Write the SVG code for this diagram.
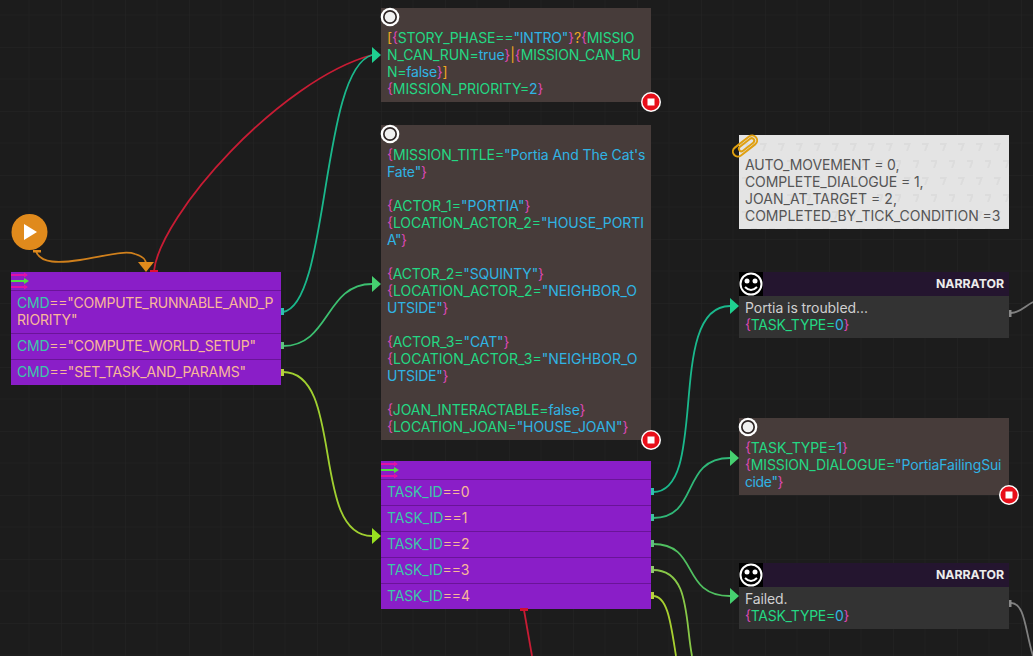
<svg xmlns="http://www.w3.org/2000/svg" width="1033" height="656" viewBox="0 0 1033 656">
<style>
text{font-family:Inter,"Noto Sans",sans-serif;font-size:14px;white-space:pre}
.wire{fill:none;stroke-width:1.800}
.cond{fill:#8a1ec8}.sep{stroke:#6a1498;stroke-width:1}
.brown{fill:#473c3a}
.p{fill:#dc48b4}.g{fill:#24d884}.b{fill:#30b4e4}.o{fill:#f0a820}
.t{fill:#3cc8a8}.s{fill:#f8b898}
.w{fill:#d0d0d0}.k{fill:#555}
.n{fill:#ececec;font-size:12.300px;font-weight:700}
</style>
<defs>
<pattern id="grid" width="64" height="64" patternUnits="userSpaceOnUse" x="-3" y="47"><path d="M32 0V64M0 32H64" fill="none" stroke="#1f1f1f" stroke-width="1"/><path d="M64 0H0V64" fill="none" stroke="#252525" stroke-width="1"/></pattern>
<pattern id="tex" width="18" height="34" patternUnits="userSpaceOnUse" x="739" y="135"><path d="M3 8h7l-3 8h-2l2-6h-4zM12 25h7l-3 8h-2l2-6h-4z" fill="#dcdcdc"/></pattern>
<g id="start"><circle r="9.300" fill="#fff"/><circle r="7" fill="#2e2626"/><circle r="5.300" fill="#f0f0f0"/></g>
<g id="stop"><circle r="10" fill="#fff"/><circle r="8.500" fill="#e80f1a"/><rect x="-3.500" y="-3.500" width="7" height="7" fill="#fff"/></g>
<g id="flags"><path d="M0 1H16M0 13H16" stroke="#e010a8" stroke-width="2"/><path d="M13 -1.500l4 2.500-4 2.500zM13 10.500l4 2.500-4 2.500z" fill="#e010a8"/><path d="M0 7H15" stroke="#50e040" stroke-width="2"/><path d="M13 4l5 3-5 3z" fill="#50e040"/></g>
<g id="smile"><rect x="-12" y="-12" width="24" height="24" fill="#000"/><circle r="10.500" fill="none" stroke="#fff" stroke-width="2"/><circle cx="-4" cy="-3" r="2.500" fill="#fff"/><circle cx="4" cy="-3" r="2.500" fill="#fff"/><path d="M-6 3Q0 9 6 3" fill="none" stroke="#fff" stroke-width="2"/></g>
</defs>
<rect width="1033" height="656" fill="#1c1c1c"/>
<rect width="1033" height="656" fill="url(#grid)"/>

<g id="connectors">
<path class="wire" stroke="#d0801c" d="M36 251C40 264 60 263 80 260C105 256 125 250 135 254C142 256 146 260 146 264"/>
<path class="wire" stroke="#c81c34" d="M154 271C160 215 280 80 372 55"/>
<path class="wire" stroke="#1ab88c" d="M283 312C330 305 320 70 372 55"/>
<path class="wire" stroke="#3cc070" d="M283 346C330 346 325 284 372 284"/>
<path class="wire" stroke="#a0d030" d="M283 372C345 372 310 536 372 536"/>
<path class="wire" stroke="#1ab88c" d="M653 492C710 492 665 306 730 306"/>
<path class="wire" stroke="#30b878" d="M653 518C700 518 680 458 730 458"/>
<path class="wire" stroke="#50c060" d="M653 544C700 544 680 596 730 596"/>
<path class="wire" stroke="#88c848" d="M653 570C690 570 685 620 692 656"/>
<path class="wire" stroke="#a8d030" d="M653 596C668 596 671 625 676 656"/>
<path class="wire" stroke="#c81c34" d="M524 610L532 656"/>
<path class="wire" stroke="#808080" d="M1011 313C1020 313 1025 306 1033 302"/>
<path class="wire" stroke="#808080" d="M1011 603C1025 603 1025 630 1033 656"/>
<path fill="#1fd090" d="M372 47l9 8-9 8z"/>
<path fill="#46d070" d="M372 276l9 8-9 8z"/>
<path fill="#98e020" d="M372 528l9 8-9 8z"/>
<path fill="#1fd090" d="M730 298l9 8-9 8z"/>
<path fill="#46d070" d="M730 450l9 8-9 8z"/>
<path fill="#46d070" d="M730 588l9 8-9 8z"/>
</g>

<g id="entry"><circle cx="29.500" cy="232" r="18" fill="#e08a1c"/><path d="M24 224l13 8-13 8z" fill="#fff"/><rect x="33" y="250" width="8" height="2.500" fill="#e08a1c"/></g>

<g id="switch-cmd">
<path d="M138 262h16l-8 10z" fill="#e08a1c"/><rect x="150" y="270" width="8" height="3" fill="#e01030"/>
<rect class="cond" x="11" y="272" width="270" height="113"/>
<use href="#flags" x="11" y="274"/>
<path class="sep" d="M11 290.500H281M11 333.500H281M11 359.500H281"/>
<rect x="281" y="308" width="3" height="7" fill="#30c0b0"/><rect x="281" y="342" width="3" height="7" fill="#60c080"/><rect x="281" y="369" width="3" height="7" fill="#b8d040"/>
<text x="17" y="308" textLength="256.500"><tspan class="t">CMD</tspan><tspan class="s">=="COMPUTE_RUNNABLE_AND_P</tspan></text>
<text class="s" x="17" y="325" textLength="60.500">RIORITY"</text>
<text x="17" y="351" textLength="239"><tspan class="t">CMD</tspan><tspan class="s">=="COMPUTE_WORLD_SETUP"</tspan></text>
<text x="17" y="377" textLength="229"><tspan class="t">CMD</tspan><tspan class="s">=="SET_TASK_AND_PARAMS"</tspan></text>
</g>

<g id="set-can-run">
<rect class="brown" x="381" y="8" width="270" height="94"/>
<use href="#start" x="390" y="17"/>
<text x="387" y="43" textLength="247.500"><tspan class="o">[</tspan><tspan class="p">{</tspan><tspan class="g">STORY_PHASE==</tspan><tspan class="b">"INTRO"</tspan><tspan class="p">}</tspan><tspan class="o">?</tspan><tspan class="p">{</tspan><tspan class="g">MISSIO</tspan></text>
<text x="387" y="60" textLength="254"><tspan class="g">N_CAN_RUN=</tspan><tspan class="b">true</tspan><tspan class="p">}</tspan><tspan class="o">|</tspan><tspan class="p">{</tspan><tspan class="g">MISSION_CAN_RU</tspan></text>
<text x="387" y="77" textLength="60.500"><tspan class="g">N=</tspan><tspan class="b">false</tspan><tspan class="p">}</tspan><tspan class="o">]</tspan></text>
<text x="387" y="94" textLength="156.500"><tspan class="p">{</tspan><tspan class="g">MISSION_PRIORITY=</tspan><tspan class="b">2</tspan><tspan class="p">}</tspan></text>
<use href="#stop" x="651" y="102"/>
</g>

<g id="set-world">
<rect class="brown" x="381" y="125" width="270" height="315"/>
<use href="#start" x="390" y="134"/>
<text x="387" y="160" textLength="258.500"><tspan class="p">{</tspan><tspan class="g">MISSION_TITLE=</tspan><tspan class="b">"Portia And The Cat's</tspan></text>
<text x="387" y="177" textLength="40"><tspan class="b">Fate"</tspan><tspan class="p">}</tspan></text>
<text x="387" y="211" textLength="143.500"><tspan class="p">{</tspan><tspan class="g">ACTOR_1=</tspan><tspan class="b">"PORTIA"</tspan><tspan class="p">}</tspan></text>
<text x="387" y="228" textLength="257"><tspan class="p">{</tspan><tspan class="g">LOCATION_ACTOR_2=</tspan><tspan class="b">"HOUSE_PORTI</tspan></text>
<text x="387" y="245" textLength="20"><tspan class="b">A"</tspan><tspan class="p">}</tspan></text>
<text x="387" y="279" textLength="157"><tspan class="p">{</tspan><tspan class="g">ACTOR_2=</tspan><tspan class="b">"SQUINTY"</tspan><tspan class="p">}</tspan></text>
<text x="387" y="296" textLength="250"><tspan class="p">{</tspan><tspan class="g">LOCATION_ACTOR_2=</tspan><tspan class="b">"NEIGHBOR_O</tspan></text>
<text x="387" y="313" textLength="61.500"><tspan class="b">UTSIDE"</tspan><tspan class="p">}</tspan></text>
<text x="387" y="347" textLength="122.500"><tspan class="p">{</tspan><tspan class="g">ACTOR_3=</tspan><tspan class="b">"CAT"</tspan><tspan class="p">}</tspan></text>
<text x="387" y="364" textLength="250.500"><tspan class="p">{</tspan><tspan class="g">LOCATION_ACTOR_3=</tspan><tspan class="b">"NEIGHBOR_O</tspan></text>
<text x="387" y="381" textLength="61.500"><tspan class="b">UTSIDE"</tspan><tspan class="p">}</tspan></text>
<text x="387" y="415" textLength="198.500"><tspan class="p">{</tspan><tspan class="g">JOAN_INTERACTABLE=</tspan><tspan class="b">false</tspan><tspan class="p">}</tspan></text>
<text x="387" y="432" textLength="241.500"><tspan class="p">{</tspan><tspan class="g">LOCATION_JOAN=</tspan><tspan class="b">"HOUSE_JOAN"</tspan><tspan class="p">}</tspan></text>
<use href="#stop" x="651" y="440"/>
</g>

<g id="switch-task">
<rect class="cond" x="381" y="461" width="270" height="148"/>
<use href="#flags" x="381" y="463"/>
<path class="sep" d="M381 479.500H651M381 505.500H651M381 531.500H651M381 557.500H651M381 583.500H651"/>
<rect x="651" y="488" width="3" height="7" fill="#30c0b0"/><rect x="651" y="514" width="3" height="7" fill="#40c0a0"/><rect x="651" y="540" width="3" height="7" fill="#60c080"/><rect x="651" y="566" width="3" height="7" fill="#90c870"/><rect x="651" y="592" width="3" height="7" fill="#b8d040"/>
<rect x="520" y="608" width="8" height="3" fill="#d01030"/>
<text x="387" y="497" textLength="82.500"><tspan class="t">TASK_ID</tspan><tspan class="s">==0</tspan></text>
<text x="387" y="523" textLength="80.500"><tspan class="t">TASK_ID</tspan><tspan class="s">==1</tspan></text>
<text x="387" y="549" textLength="82.500"><tspan class="t">TASK_ID</tspan><tspan class="s">==2</tspan></text>
<text x="387" y="575" textLength="82.500"><tspan class="t">TASK_ID</tspan><tspan class="s">==3</tspan></text>
<text x="387" y="601" textLength="83"><tspan class="t">TASK_ID</tspan><tspan class="s">==4</tspan></text>
</g>

<g id="comment">
<rect x="739" y="135" width="270" height="94" fill="#e4e4e4"/>
<rect x="739" y="135" width="270" height="94" fill="url(#tex)"/>
<g transform="translate(745 146) rotate(-38)" fill="none" stroke="#e0a010" stroke-width="2"><rect x="-14" y="-5" width="28" height="10" rx="5"/><rect x="-7" y="-2.500" width="18" height="5" rx="2.500"/></g>
<text class="k" x="745" y="170" textLength="154.500">AUTO_MOVEMENT = 0,</text>
<text class="k" x="745" y="187" textLength="178.500">COMPLETE_DIALOGUE = 1,</text>
<text class="k" x="745" y="204" textLength="152">JOAN_AT_TARGET = 2,</text>
<text class="k" x="745" y="221" textLength="255.500">COMPLETED_BY_TICK_CONDITION =3</text>
</g>

<g id="narrator-1">
<rect x="739" y="272" width="270" height="24" fill="#24152f"/>
<rect x="739" y="296" width="270" height="42" fill="#333"/>
<use href="#smile" x="751" y="284"/>
<text class="n" x="936" y="288" textLength="68">NARRATOR</text>
<text class="w" x="745" y="313" textLength="123">Portia is troubled...</text>
<text x="745" y="330" textLength="104.500"><tspan class="p">{</tspan><tspan class="g">TASK_TYPE=</tspan><tspan class="b">0</tspan><tspan class="p">}</tspan></text>
<rect x="1009" y="310" width="2.500" height="7" fill="#888"/>
</g>

<g id="set-task-type">
<rect class="brown" x="739" y="418" width="270" height="77"/>
<use href="#start" x="748" y="427"/>
<text x="745" y="453" textLength="103"><tspan class="p">{</tspan><tspan class="g">TASK_TYPE=</tspan><tspan class="b">1</tspan><tspan class="p">}</tspan></text>
<text x="745" y="470" textLength="256.500"><tspan class="p">{</tspan><tspan class="g">MISSION_DIALOGUE=</tspan><tspan class="b">"PortiaFailingSui</tspan></text>
<text x="745" y="487" textLength="38.500"><tspan class="b">cide"</tspan><tspan class="p">}</tspan></text>
<use href="#stop" x="1009" y="495"/>
</g>

<g id="narrator-2">
<rect x="739" y="563" width="270" height="24" fill="#24152f"/>
<rect x="739" y="587" width="270" height="42" fill="#333"/>
<use href="#smile" x="751" y="575"/>
<text class="n" x="936" y="579" textLength="68">NARRATOR</text>
<text class="w" x="745" y="604" textLength="42.500">Failed.</text>
<text x="745" y="621" textLength="104.500"><tspan class="p">{</tspan><tspan class="g">TASK_TYPE=</tspan><tspan class="b">0</tspan><tspan class="p">}</tspan></text>
<rect x="1009" y="600" width="2.500" height="7" fill="#888"/>
</g>
</svg>
